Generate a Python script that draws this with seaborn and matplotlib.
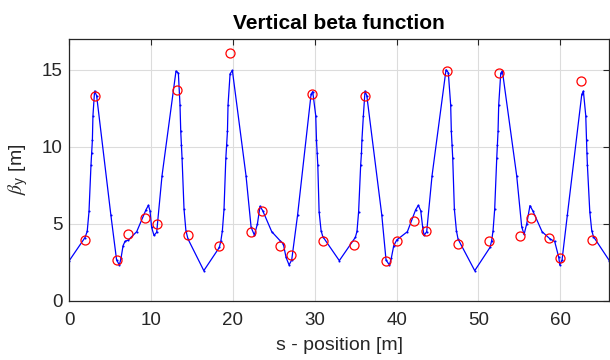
import seaborn as sns
import matplotlib.pyplot as plt
import pandas as pd

########################################################
# Data
########################################################
# beta_y along the lattice (blue line)
s_lattice = [0.0, 1.92, 2.19, 2.41, 2.65, 2.74, 2.82, 2.89, 3.09, 3.34,
             5.08, 5.78, 6.12, 6.32, 6.57, 6.81, 7.22, 8.24, 9.37, 9.67,
             9.86, 10.06, 10.35, 10.68, 11.33, 13.04, 13.33, 13.53, 13.62, 13.7,
             13.78, 14.02, 14.25, 14.51, 16.44,
             18.34, 18.53, 18.71, 18.91, 19.13, 19.23, 19.33, 19.4, 19.65, 19.93,
             21.6, 22.22, 22.62, 22.99, 23.31, 23.64, 24.74, 25.75, 26.16, 26.49,
             26.86, 27.18, 27.9, 29.55, 29.75, 30.12, 30.21, 30.29, 30.37, 30.53,
             30.77, 30.98, 33.0,
             34.96, 35.16, 35.36, 35.61, 35.71, 35.76, 35.94, 36.14, 36.36, 38.19,
             38.71, 39.12, 39.35, 39.65, 40.02, 41.32, 42.33, 42.66, 42.95, 43.19,
             43.36, 43.68, 44.33, 46.04, 46.32, 46.61, 46.69, 46.78, 46.86, 47.06,
             47.31, 47.51, 49.55,
             51.42, 51.62, 51.79, 51.99, 52.24, 52.32, 52.4, 52.48, 52.73, 52.93,
             54.68, 55.29, 55.58, 55.9, 56.3, 56.64, 57.78, 58.77, 59.32, 59.82,
             59.94, 60.22, 60.87, 62.63, 62.83, 63.12, 63.21, 63.26, 63.32, 63.61,
             63.85, 64.06, 66.0]
beta_lattice = [2.6, 4.1, 4.5, 5.8, 8.8, 9.6, 10.4, 12.0, 13.6, 13.3,
                5.56, 2.64, 2.32, 2.75, 3.57, 3.85, 3.94, 4.48, 5.9, 6.19,
                5.84, 4.76, 4.24, 4.44, 8.1, 14.9, 14.76, 12.7, 11.0, 10.1,
                9.26, 5.95, 4.55, 4.0, 1.95,
                3.46, 3.9, 4.55, 5.95, 9.24, 10.1, 11.0, 12.7, 14.72, 14.94,
                8.1, 4.76, 4.26, 4.98, 6.13, 5.84, 4.48, 3.9, 3.68, 2.81,
                2.32, 2.64, 5.56, 13.4, 13.57, 12.0, 10.4, 9.6, 8.8, 5.78,
                4.55, 4.16, 2.6,
                4.11, 4.5, 5.78, 8.8, 9.6, 10.4, 12.0, 13.6, 13.3, 5.56,
                2.64, 2.32, 2.75, 3.57, 3.94, 4.48, 5.9, 6.19, 5.84, 4.76,
                4.24, 4.48, 8.1, 14.98, 14.8, 12.7, 11.0, 10.1, 9.26, 5.95,
                4.55, 4.0, 1.95,
                3.46, 3.9, 4.55, 5.95, 9.24, 10.1, 11.0, 12.7, 14.76, 14.9,
                8.1, 4.8, 4.3, 4.98, 6.17, 5.84, 4.48, 4.0, 3.85, 2.81,
                2.32, 2.64, 5.56, 13.38, 13.6, 12.0, 10.4, 9.6, 8.8, 5.78,
                4.55, 4.16, 2.6]

# measured beta_y (red circles)
s_meas = [1.92, 3.14, 5.78, 7.13, 9.27, 10.69, 13.2, 14.5, 18.35, 19.63,
          22.22, 23.56, 25.71, 27.13, 29.69, 30.99, 34.82, 36.09, 38.65, 39.99,
          42.18, 43.59, 46.12, 47.46, 51.24, 52.51, 55.1, 56.48, 58.64, 60.03,
          62.59, 63.9]
beta_meas = [3.96, 13.31, 2.64, 4.35, 5.39, 4.96, 13.7, 4.29, 3.57, 16.04,
             4.46, 5.84, 3.57, 2.97, 13.42, 3.85, 3.64, 13.31, 2.6, 3.9,
             5.17, 4.52, 14.91, 3.68, 3.85, 14.8, 4.22, 5.35, 4.07, 2.75,
             14.24, 3.94]

df_lat = pd.DataFrame({'s': s_lattice, 'beta': beta_lattice})
df_meas = pd.DataFrame({'s': s_meas, 'beta': beta_meas})

########################################################
# Style (MATLAB-like)
########################################################
sns.set_theme(style='white')
plt.rcParams['font.family'] = ['Liberation Sans', 'DejaVu Sans']
plt.rcParams['mathtext.fontset'] = 'stix'
plt.rcParams['xtick.direction'] = 'in'
plt.rcParams['ytick.direction'] = 'in'

fig = plt.figure(figsize=(6.1, 3.6), dpi=100)
ax = fig.add_axes([0.1136, 0.1647, 0.8853, 0.7278])

sns.lineplot(data=df_lat, x='s', y='beta', sort=False, estimator=None,
             color='#0000ff', linewidth=0.9, marker='.', markersize=3,
             markeredgewidth=0, ax=ax)
sns.lineplot(data=df_meas, x='s', y='beta', sort=False, estimator=None,
             linestyle='', marker='o', markersize=6.5, markerfacecolor='none',
             markeredgecolor='#ff0000', markeredgewidth=0.9, ax=ax)

ax.set_xlim(0, 66)
ax.set_ylim(0, 17)
ax.set_xticks([0, 10, 20, 30, 40, 50, 60])
ax.set_yticks([0, 5, 10, 15])
ax.grid(True, color='#dcdcdc', linewidth=0.8)
ax.set_axisbelow(True)
for sp in ax.spines.values():
    sp.set_color('#262626')
    sp.set_linewidth(0.9)
    sp.set_visible(True)
ax.tick_params(axis='both', which='major', labelsize=13.5, colors='#262626',
               length=4, width=0.8, top=True, right=True)
ax.tick_params(axis='x', pad=8)
ax.tick_params(axis='y', pad=5)

ax.set_title('Vertical beta function', fontsize=15, fontweight='bold',
             color='black', pad=7)
ax.set_xlabel('s - position [m]', fontsize=14, color='#262626', labelpad=6)
ax.set_ylabel(r'$\beta_\mathregular{y}$ [m]', fontsize=14, color='#262626', labelpad=8)

plt.savefig('out.png', dpi=100)
